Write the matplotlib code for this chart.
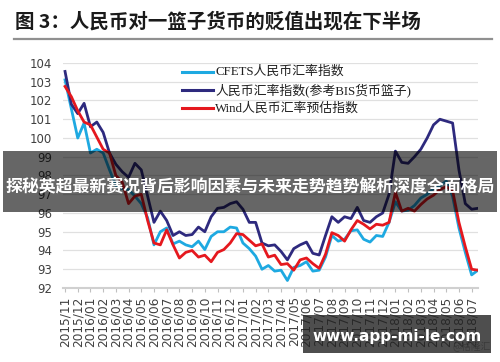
import numpy as np
import matplotlib
matplotlib.use("Agg")
import matplotlib.pyplot as plt
from matplotlib.lines import Line2D
from matplotlib.patches import Rectangle

plt.rcParams['font.family'] = ['DejaVu Sans', 'Noto Sans CJK SC']

title = "图 3：人民币对一篮子货币的贬值出现在下半场"
series_names = ["CFETS人民币汇率指数", "人民币汇率指数(参考BIS货币篮子)", "Wind人民币汇率预估指数"]
month_labels = ["2015/11", "2015/12", "2016/01", "2016/02", "2016/03", "2016/04", "2016/05",
                "2016/06", "2016/07", "2016/08", "2016/09", "2016/10", "2016/11", "2016/12",
                "2017/01", "2017/02", "2017/03", "2017/04", "2017/05", "2017/06", "2017/07",
                "2017/08", "2017/09", "2017/10", "2017/11", "2017/12", "2018/01", "2018/02",
                "2018/03", "2018/04", "2018/05", "2018/06", "2018/07"]

# half-month samples starting 2015/11
cfets = [103.1, 101.55, 100.0, 100.8, 99.2, 99.4, 99.2, 98.3, 97.45, 97.3,
         97.25, 96.9, 96.5, 95.75, 94.3, 95.0, 95.2, 94.35, 94.5, 94.3,
         94.2, 94.5, 94.05, 94.75, 95.0, 95.0, 95.25, 95.2, 94.4, 94.1,
         93.7, 93.0, 93.2, 92.9, 92.95, 92.4, 93.1, 93.2, 93.4, 92.9,
         92.95, 93.65, 94.8, 94.5, 94.6, 95.05, 95.1, 94.6, 94.45, 94.8,
         94.75, 95.5, 96.6, 96.1, 96.15, 96.4, 96.8, 97.0, 97.3, 97.45,
         97.7, 96.9, 95.2, 93.9, 92.7, 92.95]
bis = [103.55, 101.8, 101.3, 101.85, 100.6, 100.85, 100.3, 99.2, 98.6, 98.2,
       97.9, 98.65, 98.3, 96.9, 95.5, 96.1, 95.6, 94.8, 95.0, 94.8,
       94.85, 95.25, 95.0, 95.8, 96.25, 96.3, 96.5, 96.6, 96.2, 95.5,
       95.5, 94.4, 94.25, 94.3, 93.95, 93.5, 94.1, 94.3, 94.45, 93.85,
       93.76, 94.8, 95.8, 95.5, 95.8, 95.7, 96.3, 95.6, 95.5, 95.8,
       96.0, 97.0, 99.3, 98.7, 98.65, 99.0, 99.4, 100.0, 100.7, 101.0,
       100.9, 100.8, 98.3, 96.5, 96.2, 96.25]
wind = [102.75, 102.2, 101.45, 100.85, 100.7, 100.05, 99.4, 99.2, 98.0, 97.65,
        96.5, 96.9, 97.0, 95.6, 94.4, 94.3, 95.1, 94.3, 93.6, 93.9,
        94.0, 93.65, 93.75, 93.4, 93.9, 94.05, 94.4, 94.9, 94.85, 94.55,
        94.25, 94.35, 93.65, 93.75, 93.25, 93.3, 92.95, 93.5, 93.6, 93.3,
        93.05, 93.8, 94.95, 94.8, 94.5, 95.1, 95.6, 95.4, 95.15, 95.4,
        95.35, 95.5, 97.1, 96.1, 96.25, 96.1, 96.45, 96.75, 96.95, 97.25,
        97.4, 97.2, 95.5, 94.2, 93.0, 92.95]

colors = ["#1EA9E1", "#2E2A7E", "#E5181E"]

fig = plt.figure(figsize=(5.0, 3.62), dpi=100)
W, H = 500.0, 362.0

ax = fig.add_axes([63 / W, 1 - 288 / H, 415 / W, 225 / H])
x = np.arange(len(cfets)) / 2.0
for vals, c in zip([cfets, bis, wind], colors):
    ax.plot(x, vals, color=c, lw=2.0, solid_joinstyle='round', zorder=3)

ax.set_xlim(-0.16, 32.5)
ax.set_ylim(92, 104)
ax.set_yticks(np.arange(92, 105, 1))
ax.set_yticklabels([str(v) for v in range(92, 105)])
ax.set_xticks(np.arange(len(month_labels)))
ax.set_xticklabels(month_labels, rotation=90)
ax.grid(axis='y', color='#e0e0e0', lw=0.9, zorder=0)
for s in ['top', 'right', 'left']:
    ax.spines[s].set_visible(False)
ax.spines['bottom'].set_color('#d0d0d0')
ax.spines['bottom'].set_linewidth(1.5)
ax.tick_params(axis='y', length=0, labelsize=8.5, labelcolor='#404040', pad=8)
ax.tick_params(axis='x', length=3, color='#c0c0c0', labelsize=8.7, labelcolor='#404040', pad=3)

# title and rule
fig.text(15 / W, 1 - 22 / H, title, fontsize=14, fontweight='bold',
         family=['Noto Sans CJK SC'], color='#1a1a1a', va='center', ha='left')
fig.add_artist(Line2D([14 / W, 492 / W], [1 - 38.5 / H, 1 - 38.5 / H], color='#909090', lw=1.6))

# legend
for i, (name, c) in enumerate(zip(series_names, colors)):
    yy = 1 - (71.7 + i * 18.3) / H
    fig.add_artist(Line2D([182 / W, 213 / W], [yy, yy], color=c, lw=2.2))
    fig.text(215 / W, yy, name, fontsize=9.3, family=['Liberation Serif', 'Noto Sans CJK SC'],
             color='#202020', va='center', ha='left')

# overlay banner
fig.add_artist(Rectangle((3 / W, 1 - 212 / H), 494 / W, 61 / H, transform=fig.transFigure,
                         facecolor='black', alpha=0.6, edgecolor='none', zorder=10))
fig.text(250 / W, 1 - 186 / H, "探秘英超最新赛况背后影响因素与未来走势趋势解析深度全面格局",
         fontsize=12.2, fontweight='bold', family=['Noto Sans CJK SC'], color='white',
         ha='center', va='center', zorder=11)

# bottom watermark
fig.text(472 / W, 1 - 347 / H, "@格隆汇", fontsize=7, family=['Noto Sans CJK SC'],
         color='#9a9a9a', ha='center', va='center', zorder=5)
fig.add_artist(Rectangle((303 / W, 1 - 353 / H), 188 / W, 38 / H, transform=fig.transFigure,
                         facecolor='#222222', alpha=0.8, edgecolor='none', zorder=10))
fig.text(397 / W, 1 - 336.5 / H, "www.app-mi-le.com", fontsize=11, fontweight='bold',
         color='white', ha='center', va='center', zorder=11)

fig.savefig("out.png", dpi=100, facecolor='white')
